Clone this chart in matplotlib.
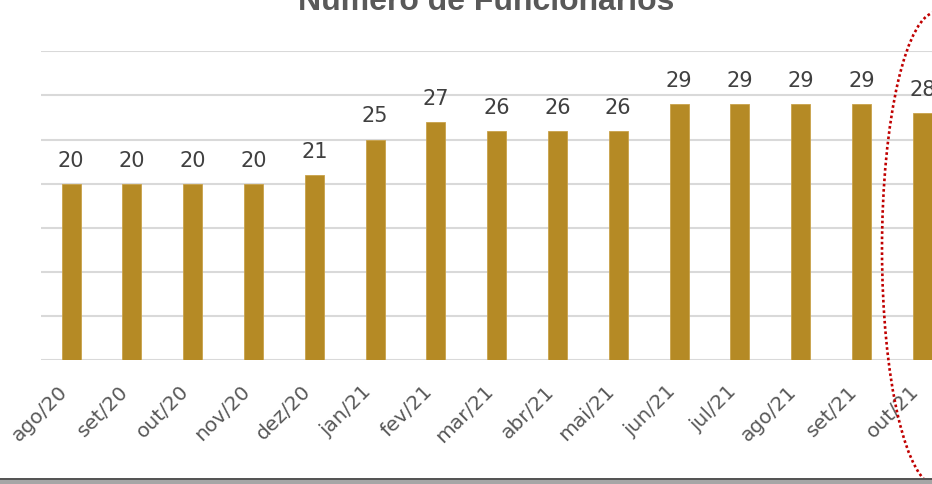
import matplotlib
matplotlib.use('Agg')
import matplotlib.pyplot as plt
from matplotlib.patches import Ellipse, Rectangle

# data
months = ['ago/20', 'set/20', 'out/20', 'nov/20', 'dez/20', 'jan/21', 'fev/21',
          'mar/21', 'abr/21', 'mai/21', 'jun/21', 'jul/21', 'ago/21', 'set/21', 'out/21']
employees = [20, 20, 20, 20, 21, 25, 27, 26, 26, 26, 29, 29, 29, 29, 28]

bar_color = '#B58A25'
grid_color = '#D9D9D9'

fig = plt.figure(figsize=(9.32, 4.85), dpi=100)
# axes runs off the right edge, like the cropped original
ax = fig.add_axes([40.7 / 932, 124 / 485, 912 / 932, 308.7 / 485])

x = list(range(len(months)))
bars = ax.bar(x, employees, width=0.31, color=bar_color, edgecolor='#C9A24A',
              linewidth=0.6, zorder=3)

for xi, v in zip(x, employees):
    ax.annotate(str(v), (xi, v), xytext=(0, 13), textcoords='offset points',
                ha='center', va='baseline', fontsize=15, color='#404040')

ax.set_xlim(-0.5, len(months) - 0.5)
ax.set_ylim(0, 35)
ax.set_yticks(range(0, 36, 5))
ax.yaxis.grid(True, color=grid_color, linewidth=1.5, zorder=0)
ax.tick_params(axis='y', length=0, labelleft=False)
ax.set_xticks(x)
ax.set_xticklabels(months, rotation=45, ha='right', va='top',
                   fontsize=14.5, color='#595959')
ax.tick_params(axis='x', length=0, pad=15)
for s in ax.spines.values():
    s.set_visible(False)

fig.text(486 / 932, 1 - 10 / 485, 'Número de Funcionários', ha='center',
         va='baseline', fontsize=23, fontweight='bold', color='#595959',
         family='Liberation Sans')

# red dotted ellipse highlighting the last month
ell = Ellipse((937 / 932, 1 - 250 / 485), width=110 / 932, height=474 / 485,
              transform=fig.transFigure, fill=False, edgecolor='#C00000',
              linewidth=1.9, linestyle=(0, (1, 1)), clip_on=False)
fig.add_artist(ell)

# bottom border
fig.add_artist(Rectangle((0, 0), 1, 5 / 485, transform=fig.transFigure,
                         facecolor='#A6A6A6', edgecolor='none'))
fig.add_artist(Rectangle((0, 4 / 485), 1, 2.5 / 485, transform=fig.transFigure,
                         facecolor='#555555', edgecolor='none'))

fig.savefig('out.png', dpi=100)
